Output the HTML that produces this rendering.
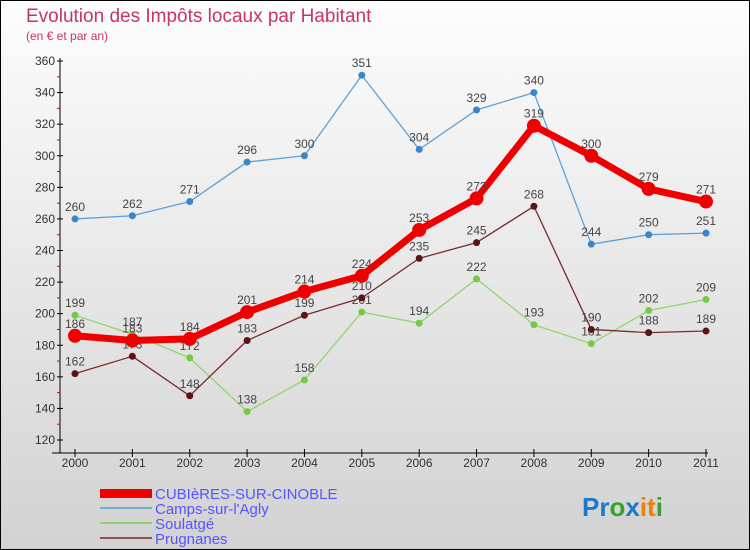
<!DOCTYPE html>
<html><head><meta charset="utf-8"><style>
body{margin:0}
svg{display:block;font-family:"Liberation Sans",sans-serif}
</style></head><body>
<svg width="750" height="550" viewBox="0 0 750 550">
<defs><linearGradient id="bg" x1="0" y1="0" x2="0" y2="1"><stop offset="0" stop-color="#fdfdfd"/><stop offset="1" stop-color="#d2d2d2"/></linearGradient></defs>
<rect x="0.5" y="0.5" width="749" height="549" fill="url(#bg)" stroke="#000"/>
<text x="26" y="22" font-size="19" fill="#c8336a">Evolution des Impôts locaux par Habitant</text>
<text x="26" y="40" font-size="12" fill="#c8336a">(en € et par an)</text>
<g id="axes"></g>
<g id="series"></g>
<g id="legend">
<rect x="100" y="489" width="52" height="9" fill="#e00"/>
<text x="155" y="499" font-size="15" fill="#5555ff">CUBIèRES-SUR-CINOBLE</text>
<rect x="100" y="507" width="52" height="2" fill="#7aaad0"/>
<text x="155" y="514" font-size="15" fill="#5555ff">Camps-sur-l'Agly</text>
<rect x="100" y="522" width="52" height="2" fill="#90d070"/>
<text x="155" y="529" font-size="15" fill="#5555ff">Soulatgé</text>
<rect x="100" y="537" width="52" height="2" fill="#905050"/>
<text x="155" y="544" font-size="15" fill="#5555ff">Prugnanes</text>
</g>
<text x="582" y="516" font-size="26" font-weight="bold"><tspan fill="#1a7acc">Pr</tspan><tspan fill="#3aa030">o</tspan><tspan fill="#1a7acc">x</tspan><tspan fill="#f08000">it</tspan><tspan fill="#3aa030">i</tspan></text>
</svg>
<script>
const years=["2000","2001","2002","2003","2004","2005","2006","2007","2008","2009","2010","2011"];
const yTicks=[120,140,160,180,200,220,240,260,280,300,320,340,360];
const cubieres=[186,183,184,201,214,224,253,273,319,300,279,271];
const camps=[260,262,271,296,300,351,304,329,340,244,250,251];
const soulatge=[199,187,172,138,158,201,194,222,193,181,202,209];
const prugnanes=[162,173,148,183,199,210,235,245,268,190,188,189];
const NS="http://www.w3.org/2000/svg";
const X=i=>75+i*(706-75)/11;
const Y=v=>440-(v-120)*(440-61)/240;
function mk(tag,attrs,parent){const e=document.createElementNS(NS,tag);for(const k in attrs)e.setAttribute(k,attrs[k]);parent.appendChild(e);return e;}
const ax=document.getElementById('axes');
let l=mk('line',{x1:60,y1:58,x2:60,y2:453,stroke:'#000'},ax);


l=mk('line',{x1:52,y1:453,x2:708,y2:453,stroke:'#000'},ax);


yTicks.forEach((v,i)=>{
 mk('line',{x1:57,y1:Y(v),x2:63,y2:Y(v),stroke:'#000'},ax);
 if(i<yTicks.length-1)mk('line',{x1:57,y1:Y(v+10),x2:60,y2:Y(v+10),stroke:'#d00'},ax);
 const t=mk('text',{x:55,y:Y(v)+4,'font-size':12,fill:'#333','text-anchor':'end'},ax);
 t.textContent=v;
 
 
});
years.forEach((y,i)=>{
 mk('line',{x1:X(i),y1:449,x2:X(i),y2:457,stroke:'#000'},ax);
 const t=mk('text',{x:X(i),y:467,'font-size':12,fill:'#333','text-anchor':'middle'},ax);
 t.textContent=y;
 
 
});
const sg=document.getElementById('series');
function draw(data,color,w,r,name,dot){
 const g=mk('g',{},sg);
 
 
 const p=mk('polyline',{points:data.map((v,i)=>X(i)+','+Y(v)).join(' '),fill:'none',stroke:color,'stroke-width':w,'stroke-linejoin':'round'},g);
 
 
 data.forEach((v,i)=>{
  const c=mk('circle',{cx:X(i),cy:Y(v),r:r,fill:dot},g);
  
  
  const t=mk('text',{x:X(i),y:Y(v)-8,'font-size':12,fill:'#444','text-anchor':'middle'},g);
  t.textContent=v;
  
  
 });
}
draw(camps,'#5fa0d6',1.3,3.5,'camps','#3a86c8');
draw(soulatge,'#92d46a',1.3,3.5,'soulatge','#78c848');
draw(prugnanes,'#7a2a2a',1.3,3.5,'prugnanes','#5a1414');
draw(cubieres,'#ee0000',7,7,'cubieres','#ee0000');
</script>
</body></html>
